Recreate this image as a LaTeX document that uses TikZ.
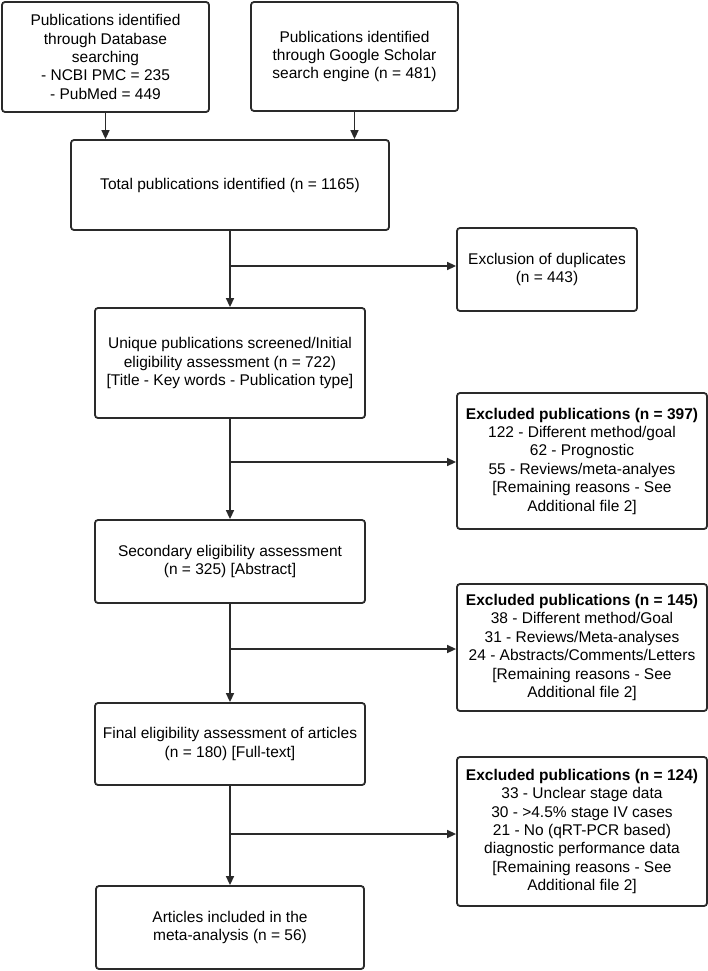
\documentclass[tikz,border=0pt]{standalone}
\usepackage{fontspec}
\setmainfont{Liberation Sans}
\usetikzlibrary{calc}
\usetikzlibrary{arrows.meta}

\definecolor{linegray}{HTML}{2A2A2A}

\tikzset{
  box/.style={draw=linegray, line width=1.8pt, rounded corners=3pt, align=center,
    inner sep=0pt, font=\fontsize{15.5}{18.4}\selectfont},
  flow/.style={draw=linegray, line width=1.5pt, -{Triangle[length=9pt,width=8pt]}},
  joint/.style={draw=linegray, line width=1.5pt}
}

\begin{document}
\begin{tikzpicture}[x=1pt, y=-1pt]
  \useasboundingbox (0,0) rectangle (708,971);
  \node [box, minimum width=207pt, minimum height=110pt] (db) at (105.5,57)
    {Publications identified\\through Database\\searching\\- NCBI PMC = 235\\- PubMed = 449};
  \node [box, minimum width=207pt, minimum height=109pt] (gs) at (354.5,56.5)
    {Publications identified\\through Google Scholar\\search engine (n = 481)};
  \node [box, minimum width=318pt, minimum height=90pt] (total) at (230,185)
    {Total publications identified (n = 1165)};
  \node [box, minimum width=180pt, minimum height=83pt] (dup) at (547,269.5)
    {Exclusion of duplicates\\(n = 443)};
  \node [box, minimum width=270pt, minimum height=110pt] (unique) at (230,363)
    {Unique publications screened/Initial\\eligibility assessment (n = 722)\\[0pt][Title - Key words - Publication type]};
  \node [box, minimum width=250pt, minimum height=136pt] (excla) at (582,461)
    {\textbf{Excluded publications (n = 397)}\\122 - Different method/goal\\62 - Prognostic\\55 - Reviews/meta-analyes\\[0pt][Remaining reasons - See\\Additional file 2]};
  \node [box, minimum width=270pt, minimum height=83pt] (second) at (230,561.5)
    {Secondary eligibility assessment\\(n = 325) [Abstract]};
  \node [box, minimum width=250pt, minimum height=127pt] (exclb) at (582,647.5)
    {\textbf{Excluded publications (n = 145)}\\38 - Different method/Goal\\31 - Reviews/Meta-analyses\\24 - Abstracts/Comments/Letters\\[0pt][Remaining reasons - See\\Additional file 2]};
  \node [box, minimum width=270pt, minimum height=82pt] (final) at (230,744)
    {Final eligibility assessment of articles\\(n = 180) [Full-text]};
  \node [box, minimum width=250pt, minimum height=149pt] (exclc) at (582,831.5)
    {\textbf{Excluded publications (n = 124)}\\33 - Unclear stage data\\30 - >4.5\% stage IV cases\\21 - No (qRT-PCR based)\\diagnostic performance data\\[0pt][Remaining reasons - See\\Additional file 2]};
  \node [box, minimum width=268pt, minimum height=83pt] (incl) at (230,927.5)
    {Articles included in the\\meta-analysis (n = 56)};

  % side branches
  \coordinate (ja) at (230,266);
  \coordinate (jb) at (230,462);
  \coordinate (jc) at (230,649);
  \coordinate (jd) at (230,834);

  \draw [flow] (db.south) -- (db.south |- total.north);
  \draw [flow] (gs.south) -- (gs.south |- total.north);
  \draw [flow] (total.south) -- (unique.north);
  \draw [flow] (unique.south) -- (second.north);
  \draw [flow] (second.south) -- (final.north);
  \draw [flow] (final.south) -- (incl.north);
  \draw [flow] (ja) -- (ja -| dup.west);
  \draw [flow] (jb) -- (jb -| excla.west);
  \draw [flow] (jc) -- (jc -| exclb.west);
  \draw [flow] (jd) -- (jd -| exclc.west);
\end{tikzpicture}
\end{document}
